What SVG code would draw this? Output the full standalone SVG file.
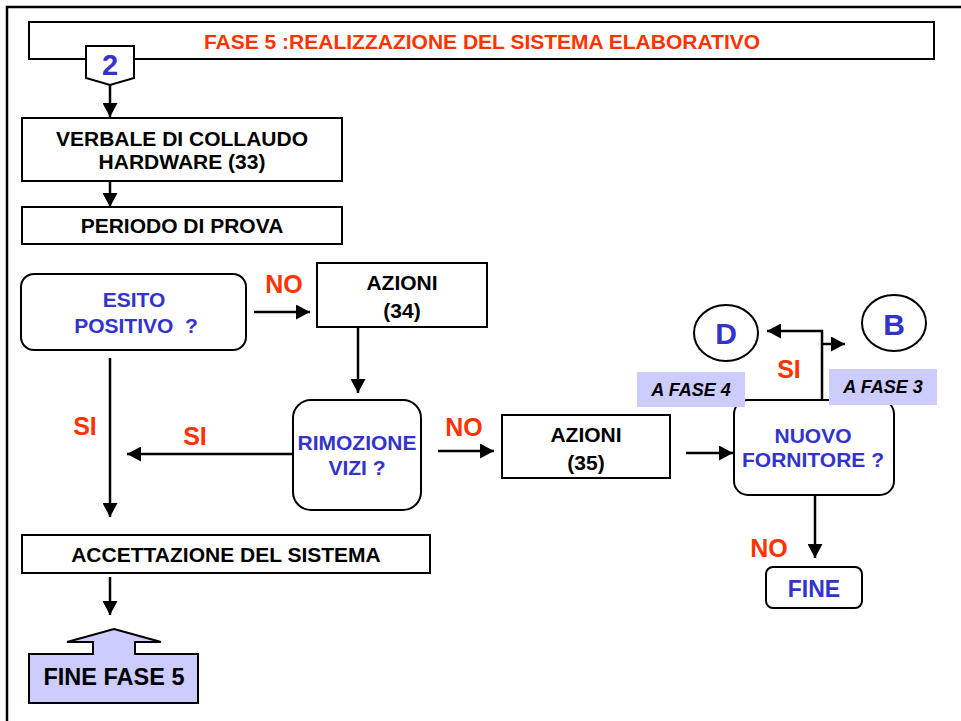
<svg xmlns="http://www.w3.org/2000/svg" width="961" height="721" viewBox="0 0 961 721">
<style>
.t{font-family:"Liberation Sans",Arial,sans-serif;font-weight:bold;font-size:21px;text-anchor:middle}
.k{fill:#000}
.b{fill:#3333CC}
.r{fill:#FF3300;font-size:25px}
.box{fill:#fff;stroke:#000;stroke-width:2}
.lab{fill:#CCCCFF}
.it{font-style:italic;font-size:18px}
.c line,.c path{stroke:#000;stroke-width:2.5;fill:none}
</style>
<defs>
<marker id="ah" markerUnits="userSpaceOnUse" markerWidth="14" markerHeight="15" refX="14" refY="7.5" orient="auto">
<path d="M0,0 L14,7.5 L0,15 z" fill="#000"/>
</marker>
</defs>
<rect width="961" height="721" fill="#fff"/>
<path d="M7,721 V7 H961" fill="none" stroke="#000" stroke-width="2.5"/>

<g id="title">
<rect class="box" x="29" y="22" width="905" height="37"/>
<text class="t" x="482" y="49" fill="#FF3300">FASE 5 :REALIZZAZIONE DEL SISTEMA ELABORATIVO</text>
</g>

<g id="n2">
<path class="box" d="M86,46 H134 V78 L110,85 L86,78 z"/>
<text class="t b" x="110" y="75" style="font-size:29px">2</text>
</g>

<g id="verbale">
<rect class="box" x="22" y="118" width="320" height="63"/>
<text class="t k" x="182" y="146">VERBALE DI COLLAUDO</text>
<text class="t k" x="182" y="169">HARDWARE (33)</text>
</g>

<g id="periodo">
<rect class="box" x="22" y="207" width="320" height="37"/>
<text class="t k" x="182" y="233">PERIODO DI PROVA</text>
</g>

<g id="esito">
<rect class="box" x="21" y="274" width="225" height="76" rx="13"/>
<text class="t b" x="134" y="307">ESITO</text>
<text class="t b" x="136" y="333" xml:space="preserve">POSITIVO  ?</text>
</g>

<g id="azioni34">
<rect class="box" x="317" y="263" width="170" height="64"/>
<text class="t k" x="402" y="290">AZIONI</text>
<text class="t k" x="402" y="318">(34)</text>
</g>

<g id="rimozione">
<rect class="box" x="293" y="400" width="128" height="110" rx="18"/>
<text class="t b" x="357" y="450">RIMOZIONE</text>
<text class="t b" x="357" y="475">VIZI ?</text>
</g>

<g id="azioni35">
<rect class="box" x="502" y="415" width="168" height="63"/>
<text class="t k" x="586" y="442">AZIONI</text>
<text class="t k" x="586" y="470">(35)</text>
</g>

<g id="nuovo">
<rect class="box" x="734" y="400" width="160" height="95" rx="14"/>
<text class="t b" x="813" y="443">NUOVO</text>
<text class="t b" x="813" y="467">FORNITORE ?</text>
</g>

<g id="fase4">
<rect class="lab" x="637" y="372" width="108" height="35"/>
<text class="t k it" x="691" y="396">A FASE 4</text>
</g>

<g id="fase3">
<rect class="lab" x="829" y="369" width="108" height="36"/>
<text class="t k it" x="883" y="393">A FASE 3</text>
</g>

<g id="D">
<ellipse cx="726" cy="333" rx="32" ry="28" fill="#fff" stroke="#000" stroke-width="2"/>
<text class="t b" x="726" y="344" style="font-size:30px">D</text>
</g>

<g id="B">
<ellipse cx="894" cy="323" rx="32" ry="28" fill="#fff" stroke="#000" stroke-width="2"/>
<text class="t b" x="894" y="335" style="font-size:30px">B</text>
</g>

<g id="fine">
<rect class="box" x="766" y="567" width="96" height="41" rx="7"/>
<text class="t b" x="814" y="597" style="font-size:23px">FINE</text>
</g>

<g id="accettazione">
<rect class="box" x="22" y="535" width="408" height="38"/>
<text class="t k" x="226" y="562">ACCETTAZIONE DEL SISTEMA</text>
</g>

<g id="finefase5">
<path d="M114,629 L161,642 H135 V654 H198 V703 H29 V654 H93 V642 H67 z" fill="#CCCCFF" stroke="#000" stroke-width="2"/>
<text class="t k" x="114" y="685" style="font-size:23.5px">FINE FASE 5</text>
</g>

<g id="connectors" class="c">
<line x1="110" y1="85" x2="110" y2="117" marker-end="url(#ah)"/>
<line x1="110" y1="181" x2="110" y2="207" marker-end="url(#ah)"/>
<line x1="254" y1="312" x2="310" y2="312" marker-end="url(#ah)"/>
<line x1="358" y1="327" x2="358" y2="393" marker-end="url(#ah)"/>
<line x1="293" y1="454" x2="127" y2="454" marker-end="url(#ah)"/>
<line x1="110" y1="358" x2="110" y2="517" marker-end="url(#ah)"/>
<line x1="438" y1="451" x2="494" y2="451" marker-end="url(#ah)"/>
<line x1="686" y1="453" x2="733" y2="453" marker-end="url(#ah)"/>
<path d="M822,400 V331 H767" marker-end="url(#ah)"/>
<line x1="822" y1="344" x2="845" y2="344" marker-end="url(#ah)"/>
<line x1="815" y1="495" x2="815" y2="558" marker-end="url(#ah)"/>
<line x1="110" y1="577" x2="110" y2="615" marker-end="url(#ah)"/>
</g>

<g id="labels">
<text class="t r" x="284" y="293">NO</text>
<text class="t r" x="85" y="435">SI</text>
<text class="t r" x="195" y="445">SI</text>
<text class="t r" x="464" y="436">NO</text>
<text class="t r" x="789" y="378">SI</text>
<text class="t r" x="769" y="557">NO</text>
</g>
</svg>
